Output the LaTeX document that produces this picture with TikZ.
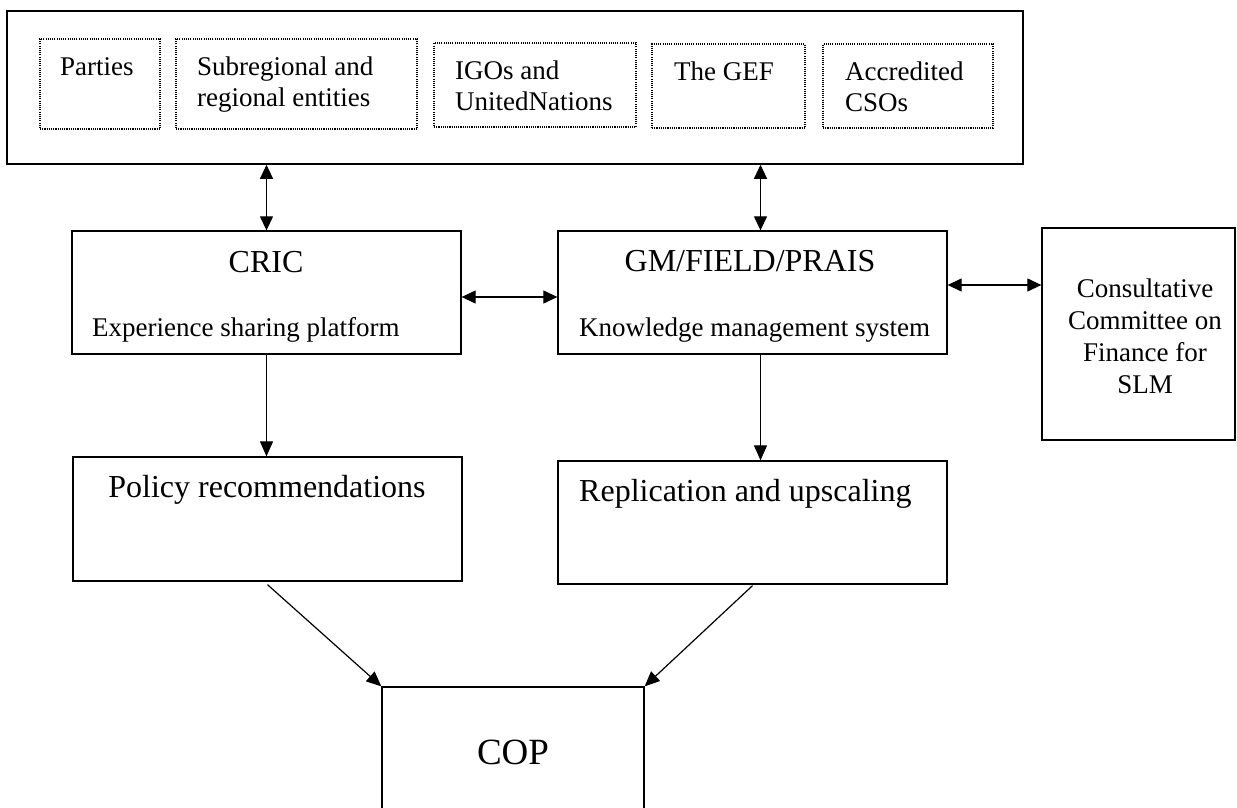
\documentclass[tikz,border=0pt]{standalone}
\usepackage{fontspec}
\setmainfont{Liberation Serif}
\usetikzlibrary{arrows.meta}
\newcommand{\mlines}[2][l]{\begin{tabular}[t]{@{}#1@{}}#2\end{tabular}}
\begin{document}
\begin{tikzpicture}[x=1pt,y=-1pt,
  box/.style={draw, line width=1.3pt, inner sep=0pt},
  outerbox/.style={draw, line width=1.6pt, inner sep=0pt},
  dotbox/.style={draw, line width=1.2pt, dash pattern=on 1.1pt off 1.1pt, inner sep=0pt},
  txt/.style={anchor=base west, inner sep=0pt, font=\fontsize{27}{31}\selectfont},
  ctxt/.style={anchor=base, inner sep=0pt, font=\fontsize{27}{32}\selectfont},
  big/.style={anchor=base, inner sep=0pt, font=\fontsize{32}{36}\selectfont},
  bigl/.style={anchor=base west, inner sep=0pt, font=\fontsize{32}{36}\selectfont},
  huge/.style={anchor=base, inner sep=0pt, font=\fontsize{37}{42}\selectfont},
  link/.style={line width=1.2pt, -{Triangle[length=15pt,width=13pt]}},
  dlink/.style={line width=1.2pt, {Triangle[length=14pt,width=13pt]}-{Triangle[length=14pt,width=13pt]}}]
\useasboundingbox (0,0) rectangle (1237,808);

% boxes
\node[outerbox, minimum width=1016pt, minimum height=153pt] (outer) at (515,87.5) {};
\node[dotbox, minimum width=120pt, minimum height=90pt] (parties) at (100,84) {};
\node[dotbox, minimum width=241pt, minimum height=90pt] (subreg) at (296.5,84) {};
\node[dotbox, minimum width=202pt, minimum height=84pt] (igos) at (535,85) {};
\node[dotbox, minimum width=153pt, minimum height=84pt] (gef) at (728.5,86) {};
\node[dotbox, minimum width=170pt, minimum height=84pt] (csos) at (908,86) {};
\node[box, minimum width=389pt, minimum height=123pt] (cric) at (266.5,292.5) {};
\node[box, minimum width=389pt, minimum height=123pt] (gm) at (752.5,292.5) {};
\node[box, minimum width=193pt, minimum height=212pt] (ccf) at (1138.5,334) {};
\node[box, minimum width=389pt, minimum height=124pt] (policy) at (267.5,519) {};
\node[box, minimum width=389pt, minimum height=123pt] (repl) at (752.5,522.5) {};
\node[box, minimum width=262pt, minimum height=128pt] (cop) at (513,751) {};

% texts
\node[txt] (tparties) at (60,75) {Parties};
\node[txt] (tsubreg) at (197,76) {\mlines{Subregional and\\regional entities}};
\node[txt] (tigos) at (455,80) {\mlines{IGOs and\\UnitedNations}};
\node[txt] (tgef) at (674,81) {The GEF};
\node[txt] (tcsos) at (845,81) {\mlines{Accredited\\CSOs}};
\node[big] (tcric) at (266,272) {CRIC};
\node[txt] (tcric2) at (92,336) {Experience sharing platform};
\node[big] (tgm) at (750,271) {GM/FIELD/PRAIS};
\node[txt] (tgm2) at (579,336) {Knowledge management system};
\node[ctxt] (tccf) at (1145,297) {\mlines[c]{Consultative\\Committee on\\Finance for\\SLM}};
\node[big] (tpolicy) at (267,497) {Policy recommendations};
\node[bigl] (trepl) at (579,501) {Replication and upscaling};
\node[huge] (tcop) at (513,764) {COP};

% connectors
\draw[dlink] (cric.north |- outer.south) -- (cric.north);
\coordinate (gmx) at ([xshift=8pt]gm.north);
\draw[dlink] (gmx |- outer.south) -- (gmx);
\draw[dlink] ([yshift=-4.5pt]cric.east) -- ([yshift=-4.5pt]gm.west);
\draw[dlink] ([yshift=7.5pt]gm.east) -- ([yshift=7.5pt]gm.east -| ccf.west);
\draw[link] (cric.south) -- (cric.south |- policy.north);
\coordinate (gmy) at ([xshift=8pt]gm.south);
\draw[link] (gmy) -- (gmy |- repl.north);
\draw[link] ([yshift=-3pt]policy.south) -- (cop.north west);
\draw[link] ([yshift=-1pt]repl.south) -- (cop.north east);
\end{tikzpicture}
\end{document}
